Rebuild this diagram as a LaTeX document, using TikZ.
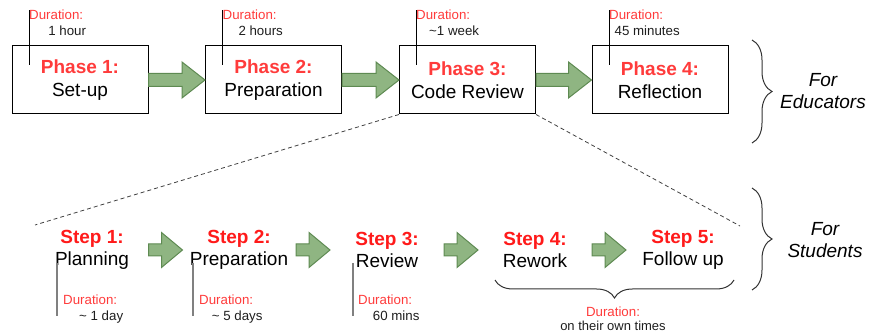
\documentclass[tikz,border=0pt]{standalone}
\usepackage{fontspec}
\setmainfont{Liberation Sans}
\usetikzlibrary{calc,decorations.pathreplacing}

\definecolor{phasered}{HTML}{FF3B3B}
\definecolor{stepred}{HTML}{FF1A1A}
\definecolor{arrowfill}{HTML}{8FB582}
\definecolor{arrowline}{HTML}{5E8A52}
\definecolor{darktext}{HTML}{1E1E1E}

\tikzset{
	phasebox/.style={draw, line width=1pt, minimum width=136pt, minimum height=68pt, align=center, font=\fontsize{19}{23}\selectfont},
	steptext/.style={align=center, font=\fontsize{19}{22}\selectfont},
	durhead/.style={anchor=base west, text=phasered, font=\fontsize{13.3}{15}\selectfont},
	durtime/.style={anchor=base, text=darktext, font=\fontsize{13.3}{15}\selectfont},
	durline/.style={line width=0.8pt},
	stepline/.style={line width=1.2pt, gray},
	blockarrow/.style={fill=arrowfill, draw=arrowline, line width=1pt, line join=miter},
	zoomline/.style={dashed, dash pattern=on 4pt off 3pt, line width=0.8pt, black!75},
	groupbrace/.style={decorate, decoration={brace, amplitude=#1}, line width=1pt, black!80},
	grouptext/.style={align=center, font=\fontsize{19}{22}\selectfont\itshape}
}

\newcommand{\phasehead}[1]{{\color{phasered}\bfseries #1}}
\newcommand{\stephead}[1]{{\color{stepred}\bfseries #1}}
% tail, tip, head length, half shaft, half head
\newcommand{\greenarrow}[5]{%
	\filldraw[blockarrow] ($(#1)+(0,-#4)$) -- ($(#2)+(-#3,-#4)$) -- ($(#2)+(-#3,-#5)$) -- (#2)
		-- ($(#2)+(-#3,#5)$) -- ($(#2)+(-#3,#4)$) -- ($(#1)+(0,#4)$) -- cycle;}

\begin{document}
\begin{tikzpicture}[x=1pt, y=-1pt, every node/.style={inner sep=0pt}]
	\useasboundingbox (0,0) rectangle (871,336);

	% phases
	\node[phasebox] (p1) at (80,80) {\phasehead{Phase 1:}\\Set-up};
	\node[phasebox] (p2) at (273.5,80) {\phasehead{Phase 2:}\\Preparation};
	\node[phasebox] (p3) at (467.5,80) {\phasehead{Phase 3:}\\Code Review};
	\node[phasebox] (p4) at (660,80) {\phasehead{Phase 4:}\\Reflection};

	\greenarrow{p1.east}{p2.west}{23}{6.5}{18}
	\greenarrow{p2.east}{p3.west}{23}{6.5}{18}
	\greenarrow{p3.east}{p4.west}{23}{6.5}{18}

	\node[durhead] (d1) at (29,20) {Duration:};
	\node[durtime] (t1) at ($(d1.base)+(11,16)$) {1 hour};
	\node[durhead] (d2) at (222.5,20) {Duration:};
	\node[durtime] (t2) at ($(d2.base)+(11,16)$) {2 hours};
	\node[durhead] (d3) at (416,20) {Duration:};
	\node[durtime] (t3) at ($(d3.base)+(11,16)$) {\textasciitilde 1 week};
	\node[durhead] (d4) at (609,20) {Duration:};
	\node[durtime] (t4) at ($(d4.base)+(11,16)$) {45 minutes};
	\draw[durline] (d1.north west) -- ++(0,55);
	\draw[durline] (d2.north west) -- ++(0,55);
	\draw[durline] (d3.north west) -- ++(0,55);
	\draw[durline] (d4.north west) -- ++(0,55);

	\coordinate (eb1) at (752,40);
	\coordinate (eb2) at (752,143);
	\draw[groupbrace=20pt] (eb1) -- (eb2);
	\node[grouptext] (edu) at (823,91) {For\\Educators};

	% zoom from phase 3 into the steps
	\coordinate (zl) at (35,225);
	\coordinate (zr) at (740,226);
	\draw[zoomline] (p3.south west) -- (zl);
	\draw[zoomline] (p3.south east) -- (zr);

	% steps
	\node[steptext] (s1) at (92,250) {\stephead{Step 1:}\\Planning};
	\node[steptext] (s2) at (239,250) {\stephead{Step 2:}\\Preparation};
	\node[steptext] (s3) at (387,250) {\stephead{Step 3:}\\Review};
	\node[steptext] (s4) at (535,250) {\stephead{Step 4:}\\Rework};
	\node[steptext] (s5) at (683,250) {\stephead{Step 5:}\\Follow up};

	\coordinate (a1l) at ($(s1)!0.5!(s2)+(-17,0)$);
	\coordinate (a1r) at ($(s1)!0.5!(s2)+(17,0)$);
	\coordinate (a2l) at ($(s2)!0.5!(s3)+(-17,0)$);
	\coordinate (a2r) at ($(s2)!0.5!(s3)+(17,0)$);
	\coordinate (a3l) at ($(s3)!0.5!(s4)+(-17,0)$);
	\coordinate (a3r) at ($(s3)!0.5!(s4)+(17,0)$);
	\coordinate (a4l) at ($(s4)!0.5!(s5)+(-17,0)$);
	\coordinate (a4r) at ($(s4)!0.5!(s5)+(17,0)$);
	\greenarrow{a1l}{a1r}{21}{6}{17.5}
	\greenarrow{a2l}{a2r}{21}{6}{17.5}
	\greenarrow{a3l}{a3r}{21}{6}{17.5}
	\greenarrow{a4l}{a4r}{21}{6}{17.5}

	\node[durhead] (sd1) at (63,305) {Duration:};
	\node[durtime] (st1) at ($(sd1.base)+(11,16)$) {\textasciitilde{} 1 day};
	\node[durhead] (sd2) at (199,305) {Duration:};
	\node[durtime] (st2) at ($(sd2.base)+(11,16)$) {\textasciitilde{} 5 days};
	\node[durhead] (sd3) at (358,305) {Duration:};
	\node[durtime] (st3) at ($(sd3.base)+(11,16)$) {60 mins};
	\draw[stepline] ($(sd1.base west)+(-6,-42)$) -- ++(0,53);
	\draw[stepline] ($(sd2.base west)+(-6,-42)$) -- ++(0,53);
	\draw[stepline] ($(sd3.base west)+(-5,-42)$) -- ++(0,53);

	% steps 4 and 5 together
	\coordinate (bb1) at (734,280);
	\coordinate (bb2) at (495,280);
	\draw[groupbrace=18pt] (bb1) -- (bb2);
	\node[durhead, anchor=base] (bd) at (613,317) {Duration:};
	\node[durtime, font=\fontsize{13}{15}\selectfont] (bt) at ($(bd.base)+(0,14)$) {on their own times};

	\coordinate (sb1) at (752,188);
	\coordinate (sb2) at (752,290);
	\draw[groupbrace=20pt] (sb1) -- (sb2);
	\node[grouptext] (stu) at (825,240) {For\\Students};
\end{tikzpicture}
\end{document}
